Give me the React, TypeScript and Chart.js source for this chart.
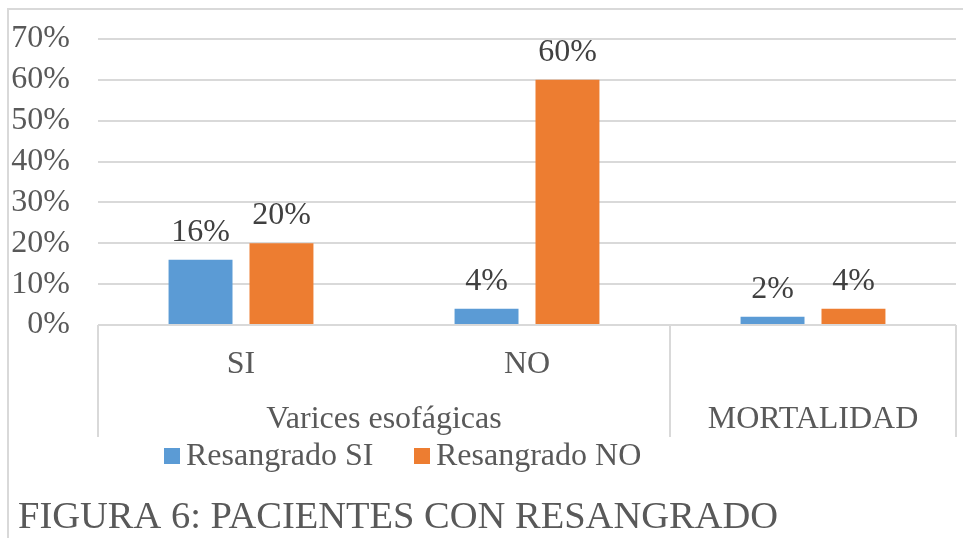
import React, { useEffect, useRef } from "react";
import { Chart, registerables } from "chart.js";

Chart.register(...registerables);

const categories = ["SI", "NO", ""];
const groupLabels = ["Varices esofágicas", "MORTALIDAD"];
const groupSpans = [2, 1];
const resangradoSI = [16, 4, 2];
const resangradoNO = [20, 60, 4];
const seriesNames = ["Resangrado SI", "Resangrado NO"];
const seriesColors = ["#5B9BD5", "#ED7D31"];
const yMax = 70;
const yStep = 10;
const chartTitle = "FIGURA 6: PACIENTES CON RESANGRADO";

const FONT = "'Liberation Serif', 'Times New Roman', serif";
const GRAY = "#595959";
const LINE = "#d9d9d9";

const decorPlugin = {
  id: "decor",
  beforeDraw(chart: any) {
    const ctx = chart.ctx;
    ctx.save();
    ctx.strokeStyle = LINE;
    ctx.lineWidth = 2;
    ctx.beginPath();
    ctx.moveTo(8, chart.height);
    ctx.lineTo(8, 9);
    ctx.lineTo(chart.width, 9);
    ctx.stroke();
    ctx.restore();
  },
  afterDraw(chart: any) {
    const ctx = chart.ctx;
    const x = chart.scales.x;
    const area = chart.chartArea;
    ctx.save();
    const n = categories.length;
    const step = (area.right - area.left) / n;
    const lineBottom = area.bottom + 112;
    ctx.strokeStyle = LINE;
    ctx.lineWidth = 2;
    let idx = 0;
    const bounds: number[] = [x.getPixelForValue(0) - step / 2];
    groupSpans.forEach((s) => {
      idx += s;
      bounds.push(x.getPixelForValue(idx - 1) + step / 2);
    });
    bounds.forEach((b) => {
      ctx.beginPath();
      ctx.moveTo(b, area.bottom);
      ctx.lineTo(b, lineBottom);
      ctx.stroke();
    });
    ctx.fillStyle = GRAY;
    ctx.font = `32px ${FONT}`;
    ctx.textAlign = "center";
    ctx.textBaseline = "alphabetic";
    categories.forEach((c, i) => {
      if (c) ctx.fillText(c, x.getPixelForValue(i), area.bottom + 48);
    });
    groupLabels.forEach((g, i) => {
      const cx = (bounds[i] + bounds[i + 1]) / 2;
      ctx.fillText(g, cx, area.bottom + 103);
    });
    ctx.fillStyle = "#404040";
    chart.data.datasets.forEach((ds: any, di: number) => {
      const meta = chart.getDatasetMeta(di);
      meta.data.forEach((bar: any, i: number) => {
        ctx.fillText(ds.data[i] + "%", bar.x, bar.y - 19);
      });
    });
    ctx.textAlign = "left";
    const legendX = [164, 414];
    chart.data.datasets.forEach((ds: any, di: number) => {
      const lx = legendX[di];
      ctx.fillStyle = ds.backgroundColor;
      ctx.fillRect(lx, 448, 16, 16);
      ctx.fillStyle = GRAY;
      ctx.fillText(ds.label, lx + 22, 465);
    });
    ctx.font = `38.5px ${FONT}`;
    ctx.fillStyle = GRAY;
    ctx.fillText(chartTitle, 18, 528);
    ctx.restore();
  },
};

export default function App() {
  const ref = useRef<HTMLCanvasElement>(null);
  useEffect(() => {
    if (!ref.current) return;
    const chart = new Chart(ref.current, {
      type: "bar",
      data: {
        labels: categories,
        datasets: [
          {
            label: seriesNames[0],
            data: resangradoSI,
            backgroundColor: seriesColors[0],
            barPercentage: 0.79,
            categoryPercentage: 0.566,
          },
          {
            label: seriesNames[1],
            data: resangradoNO,
            backgroundColor: seriesColors[1],
            barPercentage: 0.79,
            categoryPercentage: 0.566,
          },
        ],
      },
      options: {
        responsive: false,
        animation: false,
        layout: { padding: { left: 0, right: 7, top: 39, bottom: 213 } },
        plugins: {
          legend: { display: false },
          title: { display: false },
          tooltip: { enabled: false },
        },
        scales: {
          x: { display: false },
          y: {
            min: 0,
            max: yMax,
            afterFit: (s: any) => {
              s.width = 98;
              s.paddingTop = 0;
              s.paddingBottom = 0;
            },
            ticks: {
              stepSize: yStep,
              autoSkip: false,
              padding: 28,
              color: GRAY,
              font: { family: FONT, size: 32, lineHeight: 1 },
              callback: (v: any) => v + "%",
            },
            grid: { color: LINE, lineWidth: 2, drawTicks: false },
            border: { display: false },
          },
        },
      },
      plugins: [decorPlugin],
    });
    return () => chart.destroy();
  }, []);
  return (
    <div style={{ position: "fixed", left: 0, top: 0, width: 963, height: 538, background: "#fff" }}>
      <canvas ref={ref} width={963} height={538} />
    </div>
  );
}
